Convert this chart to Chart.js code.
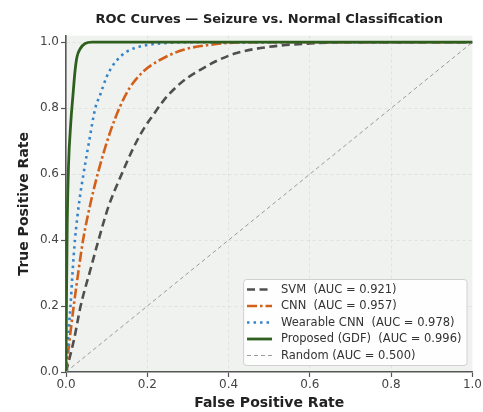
<!DOCTYPE html>
<html>
<head>
<meta charset="utf-8">
<script src="https://cdn.jsdelivr.net/npm/chart.js@4/dist/chart.umd.min.js"></script>
<style>
  html, body { margin: 0; padding: 0; background: #ffffff; }
  #wrap { width: 483px; height: 412px; position: relative; }
</style>
</head>
<body>
<div id="wrap"><canvas id="c" width="483" height="412"></canvas></div>
<script>
// ---- Data ----
const chartTitle = "ROC Curves \u2014 Seizure vs. Normal Classification";
const xTitle = "False Positive Rate";
const yTitle = "True Positive Rate";
const xTicks = [0.0, 0.2, 0.4, 0.6, 0.8, 1.0];
const yTicks = [0.0, 0.2, 0.4, 0.6, 0.8, 1.0];

const seriesLabels = [
  "SVM  (AUC = 0.921)",
  "CNN  (AUC = 0.957)",
  "Wearable CNN  (AUC = 0.978)",
  "Proposed (GDF)  (AUC = 0.996)",
  "Random (AUC = 0.500)"
];

const svmFpr = [0, 0.02, 0.036, 0.06, 0.08, 0.104, 0.137, 0.166, 0.19, 0.215, 0.24, 0.272, 0.30, 0.33, 0.37, 0.42, 0.50, 0.60, 0.70, 1.0];
const svmTpr = [0, 0.10, 0.20, 0.31, 0.40, 0.50, 0.60, 0.68, 0.735, 0.78, 0.823, 0.865, 0.893, 0.916, 0.943, 0.967, 0.986, 0.996, 1.0, 1.0];

const cnnFpr = [0, 0.01, 0.019, 0.03, 0.042, 0.06, 0.08, 0.108, 0.133, 0.157, 0.19, 0.231, 0.289, 0.354, 0.42, 0.50, 1.0];
const cnnTpr = [0, 0.11, 0.20, 0.30, 0.40, 0.51, 0.61, 0.725, 0.805, 0.862, 0.911, 0.946, 0.977, 0.992, 0.999, 1.0, 1.0];

const wearFpr = [0, 0.005, 0.011, 0.016, 0.022, 0.033, 0.043, 0.057, 0.072, 0.084, 0.10, 0.113, 0.125, 0.149, 0.19, 0.25, 0.30, 1.0];
const wearTpr = [0, 0.10, 0.20, 0.30, 0.40, 0.52, 0.60, 0.70, 0.80, 0.84, 0.895, 0.925, 0.945, 0.971, 0.989, 0.998, 1.0, 1.0];

const gdfFpr = [0, 0.001, 0.003, 0.006, 0.012, 0.017, 0.022, 0.027, 0.035, 0.047, 0.064, 1.0];
const gdfTpr = [0, 0.20, 0.45, 0.62, 0.76, 0.837, 0.91, 0.955, 0.98, 0.996, 1.0, 1.0];

const randFpr = [0, 1];
const randTpr = [0, 1];

// ---- Styles ----
const colors = ["#4f4f4f", "#d2601a", "#3584c9", "#2f5f1f", "#9a9a9a"];
const widths = [2.6, 2.6, 2.6, 2.8, 1];
const dashes = [[8, 4.5], [10, 3, 2.5, 3], [2.5, 4], [], [4, 3]];

function pts(xs, ys) { return xs.map((x, i) => ({ x: x, y: ys[i] })); }

const allFpr = [svmFpr, cnnFpr, wearFpr, gdfFpr, randFpr];
const allTpr = [svmTpr, cnnTpr, wearTpr, gdfTpr, randTpr];
const orders = [4, 3, 2, 1, 0];

const datasets = seriesLabels.map((lab, i) => ({
  label: lab,
  data: pts(allFpr[i], allTpr[i]),
  borderColor: colors[i],
  backgroundColor: colors[i],
  borderWidth: widths[i],
  borderDash: dashes[i],
  pointRadius: 0,
  fill: false,
  cubicInterpolationMode: i === 4 ? 'default' : 'monotone',
  tension: 0,
  order: orders[i]
}));

const FONT = "'DejaVu Sans', 'Liberation Sans', sans-serif";

const bgPlugin = {
  id: 'bgPlugin',
  beforeDraw(chart) {
    const a = chart.chartArea, ctx = chart.ctx;
    ctx.save();
    ctx.fillStyle = '#f0f2ef';
    ctx.fillRect(a.left, a.top, a.right - a.left, a.bottom - a.top);
    ctx.restore();
  }
};

const legendPlugin = {
  id: 'boxLegend',
  afterDraw(chart) {
    const a = chart.chartArea, ctx = chart.ctx;
    ctx.save();
    ctx.font = "11.5px " + FONT;
    let maxW = 0;
    seriesLabels.forEach(t => { maxW = Math.max(maxW, ctx.measureText(t).width); });
    const right = a.right - 5.4;
    const bottom = a.bottom - 6.5;
    const top = bottom - 86;
    const left = right - (37.4 + maxW + 5.6);
    ctx.beginPath();
    const r = 3;
    ctx.moveTo(left + r, top);
    ctx.arcTo(right, top, right, bottom, r);
    ctx.arcTo(right, bottom, left, bottom, r);
    ctx.arcTo(left, bottom, left, top, r);
    ctx.arcTo(left, top, right, top, r);
    ctx.closePath();
    ctx.fillStyle = 'rgba(255,255,255,0.9)';
    ctx.fill();
    ctx.strokeStyle = '#d0d0d0';
    ctx.lineWidth = 1;
    ctx.stroke();
    seriesLabels.forEach((t, i) => {
      const y = top + 10 + i * 16.5;
      ctx.beginPath();
      ctx.strokeStyle = colors[i];
      ctx.lineWidth = widths[i];
      ctx.setLineDash(dashes[i]);
      ctx.moveTo(left + 3.4, y);
      ctx.lineTo(left + 28.4, y);
      ctx.stroke();
      ctx.setLineDash([]);
      ctx.fillStyle = '#333333';
      ctx.textBaseline = 'middle';
      ctx.textAlign = 'left';
      ctx.fillText(t, left + 37.4, y + 0.5);
    });
    ctx.restore();
  }
};

new Chart(document.getElementById('c'), {
  type: 'line',
  data: { datasets: datasets },
  plugins: [bgPlugin, legendPlugin],
  options: {
    responsive: false,
    animation: false,
    events: [],
    layout: { padding: { left: 0, right: 10.3, top: 0, bottom: 0 } },
    plugins: {
      legend: { display: false },
      tooltip: { enabled: false },
      title: {
        display: true,
        fullSize: false,
        text: chartTitle,
        color: '#222222',
        font: { family: FONT, size: 13, weight: 'bold' },
        padding: { top: 12, bottom: 8 }
      }
    },
    scales: {
      x: {
        type: 'linear',
        min: 0, max: 1,
        afterFit(s) { s.height = 40; },
        afterBuildTicks(s) { s.ticks = xTicks.map(v => ({ value: v })); },
        ticks: {
          color: '#444444',
          font: { family: FONT, size: 12 },
          padding: 1,
          maxRotation: 0,
          callback: v => Number(v).toFixed(1)
        },
        grid: {
          color: ctx => (ctx.tick && (ctx.tick.value === 0 || ctx.tick.value === 1)) ? 'rgba(0,0,0,0)' : '#dcdcdc',
          lineWidth: 0.8,
          tickColor: '#555555',
          tickLength: 5,
          tickWidth: 1.2,
          tickBorderDash: []
        },
        border: { display: true, color: '#555555', width: 1.6, dash: [3, 3] },
        title: {
          display: true,
          text: xTitle,
          color: '#222222',
          font: { family: FONT, size: 14, weight: 'bold' },
          padding: { top: 0, bottom: 0 }
        }
      },
      y: {
        type: 'linear',
        min: 0, max: 1.02,
        afterFit(s) { s.width = 66; },
        afterBuildTicks(s) { s.ticks = yTicks.map(v => ({ value: v })); },
        ticks: {
          color: '#444444',
          font: { family: FONT, size: 12 },
          padding: 2,
          callback: v => Number(v).toFixed(1)
        },
        grid: {
          color: ctx => (ctx.tick && ctx.tick.value === 0) ? 'rgba(0,0,0,0)' : '#dcdcdc',
          lineWidth: 0.8,
          tickColor: '#555555',
          tickLength: 5,
          tickWidth: 1.2,
          tickBorderDash: []
        },
        border: { display: true, color: '#555555', width: 1.6, dash: [3, 3] },
        title: {
          display: true,
          text: yTitle,
          color: '#222222',
          font: { family: FONT, size: 14, weight: 'bold' },
          padding: { top: 16, bottom: 0 }
        }
      }
    }
  }
});
</script>
</body>
</html>
